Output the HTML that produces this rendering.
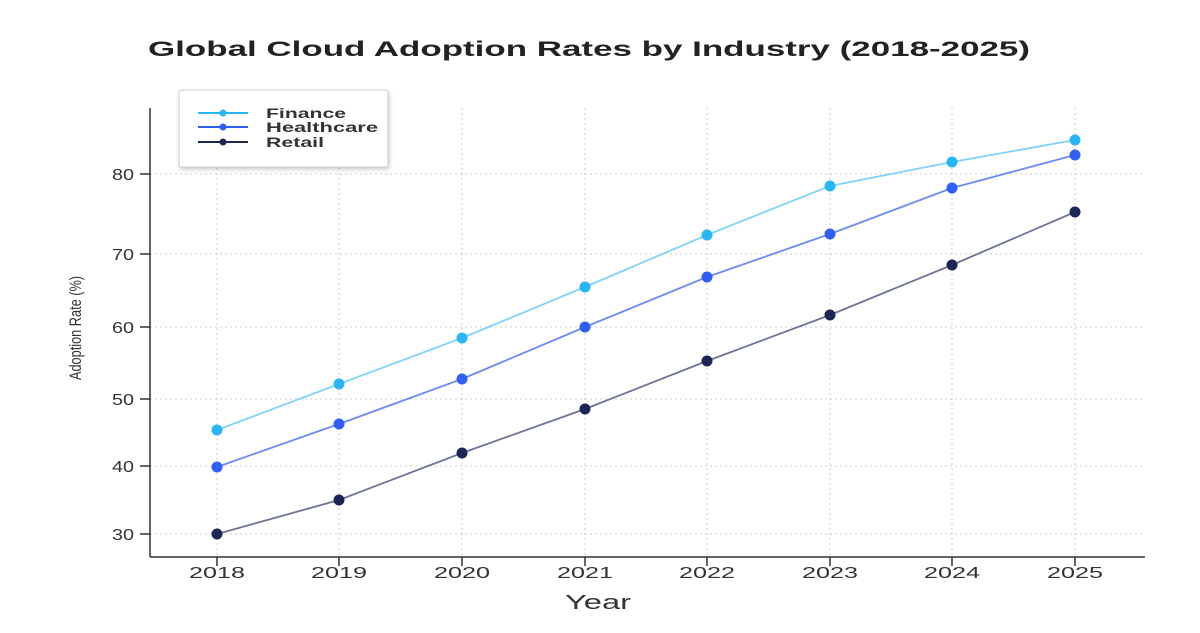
<!DOCTYPE html>
<html><head><meta charset="utf-8"><style>
body{margin:0;background:#fff;width:1200px;height:628px;overflow:hidden}
text{font-family:"Liberation Sans",sans-serif}
</style></head><body>
<svg width="1200" height="628" viewBox="0 0 1200 628">
<text x="589" y="56" text-anchor="middle" font-size="21" font-weight="bold" fill="#222" textLength="882" lengthAdjust="spacingAndGlyphs">Global Cloud Adoption Rates by Industry (2018-2025)</text>
<g stroke="#ccc" stroke-width="1" stroke-dasharray="2,3">
<line x1="217" y1="108" x2="217" y2="557"/><line x1="339" y1="108" x2="339" y2="557"/>
<line x1="462" y1="108" x2="462" y2="557"/><line x1="585" y1="108" x2="585" y2="557"/>
<line x1="707" y1="108" x2="707" y2="557"/><line x1="830" y1="108" x2="830" y2="557"/>
<line x1="952" y1="108" x2="952" y2="557"/><line x1="1075" y1="108" x2="1075" y2="557"/>
<line x1="150" y1="534" x2="1145" y2="534"/><line x1="150" y1="466" x2="1145" y2="466"/>
<line x1="150" y1="399" x2="1145" y2="399"/><line x1="150" y1="327" x2="1145" y2="327"/>
<line x1="150" y1="254" x2="1145" y2="254"/><line x1="150" y1="174" x2="1145" y2="174"/>
</g>
<g stroke="#333" stroke-width="1.5">
<line x1="150" y1="108" x2="150" y2="557"/><line x1="150" y1="557" x2="1145" y2="557"/>
<line x1="140" y1="534" x2="150" y2="534"/><line x1="140" y1="466" x2="150" y2="466"/>
<line x1="140" y1="399" x2="150" y2="399"/><line x1="140" y1="327" x2="150" y2="327"/>
<line x1="140" y1="254" x2="150" y2="254"/><line x1="140" y1="174" x2="150" y2="174"/>
<line x1="217" y1="557" x2="217" y2="566"/><line x1="339" y1="557" x2="339" y2="566"/>
<line x1="462" y1="557" x2="462" y2="566"/><line x1="585" y1="557" x2="585" y2="566"/>
<line x1="707" y1="557" x2="707" y2="566"/><line x1="830" y1="557" x2="830" y2="566"/>
<line x1="952" y1="557" x2="952" y2="566"/><line x1="1075" y1="557" x2="1075" y2="566"/>
</g>
<g font-size="16" fill="#333" text-anchor="end">
<text x="134" y="540" textLength="22" lengthAdjust="spacingAndGlyphs">30</text><text x="134" y="472" textLength="22" lengthAdjust="spacingAndGlyphs">40</text><text x="134" y="405" textLength="22" lengthAdjust="spacingAndGlyphs">50</text>
<text x="134" y="333" textLength="22" lengthAdjust="spacingAndGlyphs">60</text><text x="134" y="260" textLength="22" lengthAdjust="spacingAndGlyphs">70</text><text x="134" y="180" textLength="22" lengthAdjust="spacingAndGlyphs">80</text>
</g>
<g font-size="16" fill="#333" text-anchor="middle">
<text x="217" y="578" textLength="56" lengthAdjust="spacingAndGlyphs">2018</text><text x="339" y="578" textLength="56" lengthAdjust="spacingAndGlyphs">2019</text><text x="462" y="578" textLength="56" lengthAdjust="spacingAndGlyphs">2020</text>
<text x="585" y="578" textLength="56" lengthAdjust="spacingAndGlyphs">2021</text><text x="707" y="578" textLength="56" lengthAdjust="spacingAndGlyphs">2022</text><text x="830" y="578" textLength="56" lengthAdjust="spacingAndGlyphs">2023</text>
<text x="952" y="578" textLength="56" lengthAdjust="spacingAndGlyphs">2024</text><text x="1075" y="578" textLength="56" lengthAdjust="spacingAndGlyphs">2025</text>
</g>
<text x="598" y="609" text-anchor="middle" font-size="20" fill="#333" textLength="66" lengthAdjust="spacingAndGlyphs">Year</text>
<text transform="translate(81,328) rotate(-90) scale(0.75,1)" text-anchor="middle" font-size="17" fill="#333">Adoption Rate (%)</text>
<g fill="none" stroke-width="1.8">
<polyline stroke="#7fd3fb" points="217,430 339,384 462,338 585,287 707,235 830,186 952,162 1075,140"/>
<polyline stroke="#6b8cf5" points="217,467 339,424 462,379 585,327 707,277 830,234 952,188 1075,155"/>
<polyline stroke="#6e7496" points="217,534 339,500 462,453 585,409 707,361 830,315 952,265 1075,212"/>
</g>
<g fill="#29b6f6">
<circle cx="217" cy="430" r="5.5"/><circle cx="339" cy="384" r="5.5"/><circle cx="462" cy="338" r="5.5"/><circle cx="585" cy="287" r="5.5"/><circle cx="707" cy="235" r="5.5"/><circle cx="830" cy="186" r="5.5"/><circle cx="952" cy="162" r="5.5"/><circle cx="1075" cy="140" r="5.5"/>
</g>
<g fill="#2f5ff5">
<circle cx="217" cy="467" r="5.5"/><circle cx="339" cy="424" r="5.5"/><circle cx="462" cy="379" r="5.5"/><circle cx="585" cy="327" r="5.5"/><circle cx="707" cy="277" r="5.5"/><circle cx="830" cy="234" r="5.5"/><circle cx="952" cy="188" r="5.5"/><circle cx="1075" cy="155" r="5.5"/>
</g>
<g fill="#1b2657">
<circle cx="217" cy="534" r="5.5"/><circle cx="339" cy="500" r="5.5"/><circle cx="462" cy="453" r="5.5"/><circle cx="585" cy="409" r="5.5"/><circle cx="707" cy="361" r="5.5"/><circle cx="830" cy="315" r="5.5"/><circle cx="952" cy="265" r="5.5"/><circle cx="1075" cy="212" r="5.5"/>
</g>
<rect x="179" y="90" width="209" height="77" fill="#fff" stroke="#ccc" rx="2" style="filter:drop-shadow(1px 2px 2px rgba(0,0,0,0.2))"/>
<line x1="198" y1="113" x2="248" y2="113" stroke="#29b6f6" stroke-width="2"/><circle cx="223" cy="113" r="3.5" fill="#29b6f6"/>
<line x1="198" y1="127" x2="248" y2="127" stroke="#2f5ff5" stroke-width="2"/><circle cx="223" cy="127" r="3.5" fill="#2f5ff5"/>
<line x1="198" y1="142" x2="248" y2="142" stroke="#1b2657" stroke-width="2"/><circle cx="223" cy="142" r="3.5" fill="#1b2657"/>
<g font-size="14" font-weight="bold" fill="#333">
<text x="266" y="118" textLength="80" lengthAdjust="spacingAndGlyphs">Finance</text><text x="266" y="132" textLength="112" lengthAdjust="spacingAndGlyphs">Healthcare</text><text x="266" y="147" textLength="58" lengthAdjust="spacingAndGlyphs">Retail</text>
</g>
</svg>
</body></html>
